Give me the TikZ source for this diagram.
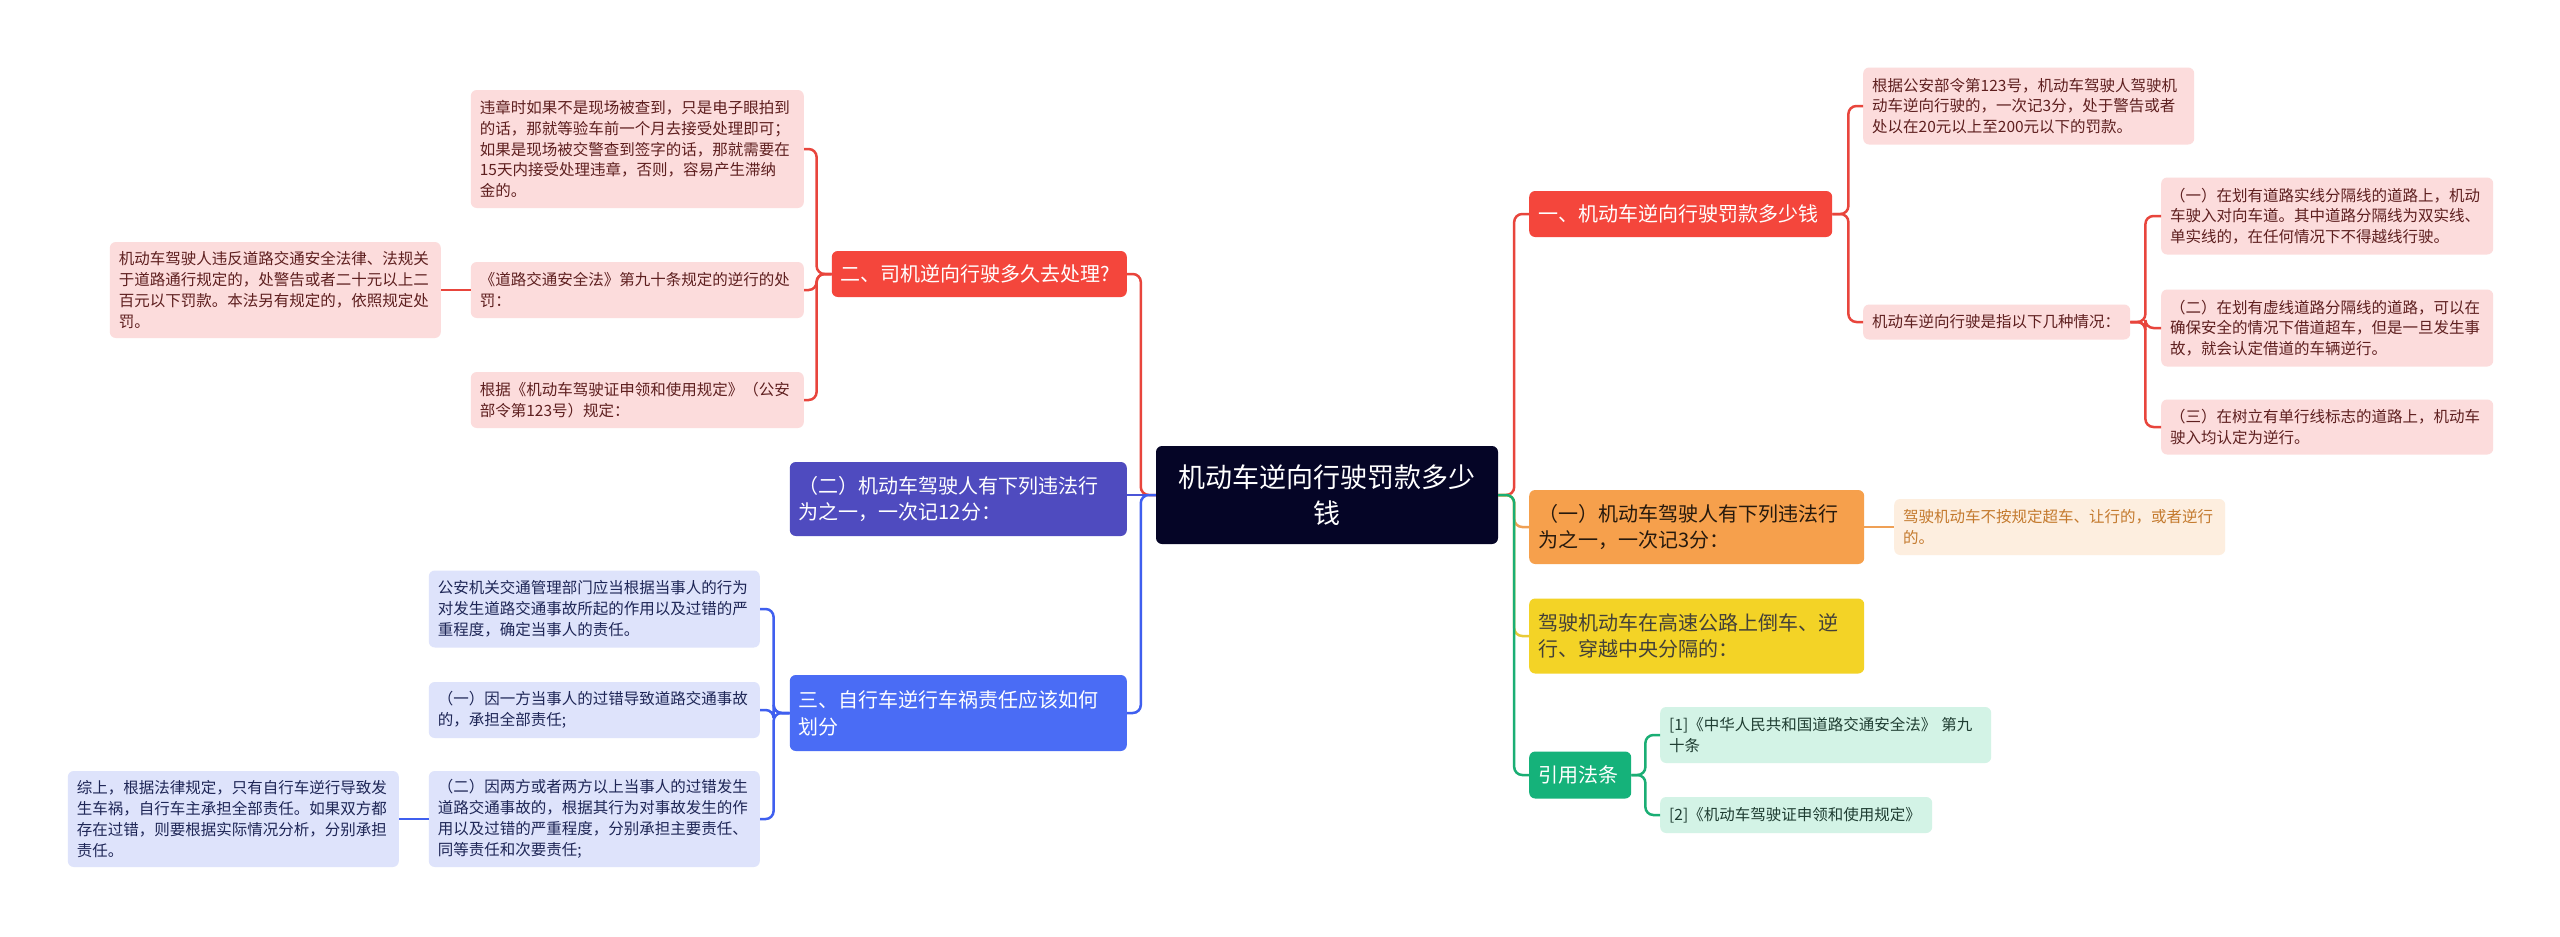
\documentclass[tikz,border=0pt]{standalone}
\usepackage{fontspec}
\setmainfont{Noto Sans CJK SC}
\definecolor{rootc}{HTML}{050526}
\definecolor{redc}{HTML}{F4463C}
\definecolor{redline}{HTML}{E8453C}
\definecolor{pinkc}{HTML}{FCDCDC}
\definecolor{pinktext}{HTML}{5E1F1F}
\definecolor{orangec}{HTML}{F6A04C}
\definecolor{orangeline}{HTML}{EFA055}
\definecolor{peachc}{HTML}{FDEEDF}
\definecolor{peachtext}{HTML}{C47A2E}
\definecolor{yellowc}{HTML}{F3D326}
\definecolor{yellowline}{HTML}{E8CB3A}
\definecolor{greenc}{HTML}{15B27A}
\definecolor{greenline}{HTML}{1AAE74}
\definecolor{mintc}{HTML}{D3F3E6}
\definecolor{minttext}{HTML}{1F3D32}
\definecolor{purplec}{HTML}{4F4BBF}
\definecolor{purpleline}{HTML}{4B55D8}
\definecolor{bluec}{HTML}{4A6CF5}
\definecolor{blueline}{HTML}{3F5FEF}
\definecolor{lavc}{HTML}{DEE3FB}
\definecolor{lavtext}{HTML}{1E2656}
\tikzset{
  mapbox/.style={rounded corners=6pt, inner xsep=9pt, inner ysep=3pt, align=left},
  headtext/.style={mapbox, text width=317pt, font=\fontsize{20}{26.7}\selectfont},
  leaftext/.style={mapbox, text width=313pt, font=\fontsize{15.5}{20.8}\selectfont},
  rootbox/.style={rounded corners=6pt, fill=rootc, text=white, align=center, inner xsep=9pt,
    text width=324pt, minimum height=98pt, font=\fontsize{27}{36.7}\selectfont},
  redhead/.style={headtext, fill=redc, text=white},
  redleaf/.style={leaftext, fill=pinkc, text=pinktext},
  orangehead/.style={headtext, fill=orangec, text=black!80!brown},
  peachleaf/.style={leaftext, fill=peachc, text=peachtext},
  yellowhead/.style={headtext, fill=yellowc, text=black!85!yellow},
  greenhead/.style={headtext, fill=greenc, text=white},
  mintleaf/.style={leaftext, fill=mintc, text=minttext},
  purplehead/.style={headtext, fill=purplec, text=white},
  bluehead/.style={headtext, fill=bluec, text=white},
  blueleaf/.style={leaftext, fill=lavc, text=lavtext},
  lnk/.style={line width=2.5pt, rounded corners=8pt}
}
\begin{document}
\begin{tikzpicture}[x=1pt,y=-1pt]
  \path[use as bounding box, fill=white] (0,0) rectangle (2560,937);

  \node[rootbox] (root) at (1327,495) {机动车逆向行驶罚款多少\\钱};

  \node[redhead, anchor=west, text width=285pt, minimum height=46pt] (r1) at (1529,214) {一、机动车逆向行驶罚款多少钱};
  \node[redleaf, anchor=west, minimum height=77pt] (r1a) at (1863,106) {根据公安部令第123号，机动车驾驶人驾驶机\\动车逆向行驶的，一次记3分，处于警告或者\\处以在20元以上至200元以下的罚款。};
  \node[redleaf, anchor=west, text width=249pt, minimum height=35pt] (r1b) at (1863,322) {机动车逆向行驶是指以下几种情况：};
  \node[redleaf, anchor=west, text width=314pt, minimum height=77pt] (r1b1) at (2161,216) {（一）在划有道路实线分隔线的道路上，机动\\车驶入对向车道。其中道路分隔线为双实线、\\单实线的，在任何情况下不得越线行驶。};
  \node[redleaf, anchor=west, text width=314pt, minimum height=77pt] (r1b2) at (2161,328) {（二）在划有虚线道路分隔线的道路，可以在\\确保安全的情况下借道超车，但是一旦发生事\\故，就会认定借道的车辆逆行。};
  \node[redleaf, anchor=west, text width=314pt, minimum height=55pt] (r1b3) at (2161,427) {（三）在树立有单行线标志的道路上，机动车\\驶入均认定为逆行。};
  \node[orangehead, anchor=west, minimum height=74pt] (r2) at (1529,527) {（一）机动车驾驶人有下列违法行\\为之一，一次记3分：};
  \node[peachleaf, anchor=west, minimum height=56pt] (r2a) at (1894,527) {驾驶机动车不按规定超车、让行的，或者逆行\\的。};
  \node[yellowhead, anchor=west, minimum height=75pt] (r3) at (1529,636) {驾驶机动车在高速公路上倒车、逆\\行、穿越中央分隔的：};
  \node[greenhead, anchor=west, text width=84pt, minimum height=47pt] (r4) at (1529,775) {引用法条};
  \node[mintleaf, anchor=west, minimum height=56pt] (r4a) at (1660,735) {[1]《中华人民共和国道路交通安全法》~第九\\十条};
  \node[mintleaf, anchor=west, text width=254pt, minimum height=36pt] (r4b) at (1660,815) {[2]《机动车驾驶证申领和使用规定》};

  \node[redhead, anchor=east, text width=277pt, minimum height=46pt] (l1) at (1127,274) {二、司机逆向行驶多久去处理?};
  \node[redleaf, anchor=east, text width=315pt, minimum height=118pt] (l1a) at (804,149) {违章时如果不是现场被查到，只是电子眼拍到\\的话，那就等验车前一个月去接受处理即可；\\如果是现场被交警查到签字的话，那就需要在\\15天内接受处理违章，否则，容易产生滞纳\\金的。};
  \node[redleaf, anchor=east, text width=315pt, minimum height=56pt] (l1b) at (804,290) {《道路交通安全法》第九十条规定的逆行的处\\罚：};
  \node[redleaf, anchor=east, minimum height=96pt] (l1b1) at (441,290) {机动车驾驶人违反道路交通安全法律、法规关\\于道路通行规定的，处警告或者二十元以上二\\百元以下罚款。本法另有规定的，依照规定处\\罚。};
  \node[redleaf, anchor=east, text width=315pt, minimum height=56pt] (l1c) at (804,400) {根据《机动车驾驶证申领和使用规定》（公安\\部令第123号）规定：};
  \node[purplehead, anchor=east, text width=319pt, minimum height=74pt] (l2) at (1127,499) {（二）机动车驾驶人有下列违法行\\为之一，一次记12分：};
  \node[bluehead, anchor=east, text width=319pt, minimum height=76pt] (l3) at (1127,713) {三、自行车逆行车祸责任应该如何\\划分};
  \node[blueleaf, anchor=east, minimum height=77pt] (l3a) at (760,609) {公安机关交通管理部门应当根据当事人的行为\\对发生道路交通事故所起的作用以及过错的严\\重程度，确定当事人的责任。};
  \node[blueleaf, anchor=east, minimum height=56pt] (l3b) at (760,710) {（一）因一方当事人的过错导致道路交通事故\\的，承担全部责任;};
  \node[blueleaf, anchor=east, minimum height=96pt] (l3c) at (760,819) {（二）因两方或者两方以上当事人的过错发生\\道路交通事故的，根据其行为对事故发生的作\\用以及过错的严重程度，分别承担主要责任、\\同等责任和次要责任;};
  \node[blueleaf, anchor=east, minimum height=96pt] (l3c1) at (399,819) {综上，根据法律规定，只有自行车逆行导致发\\生车祸，自行车主承担全部责任。如果双方都\\存在过错，则要根据实际情况分析，分别承担\\责任。};

  \draw[lnk, redline] (root.east) -- ++(16,0) |- (r1.west);
  \draw[lnk, orangeline] (root.east) -- ++(16,0) |- (r2.west);
  \draw[lnk, yellowline] (root.east) -- ++(16,0) |- (r3.west);
  \draw[lnk, greenline] (root.east) -- ++(16,0) |- (r4.west);
  \draw[lnk, redline] (r1.east) -- ++(16,0) |- (r1a.west);
  \draw[lnk, redline] (r1.east) -- ++(16,0) |- (r1b.west);
  \draw[lnk, redline] (r1b.east) -- ++(15,0) |- (r1b1.west);
  \draw[lnk, redline] (r1b.east) -- ++(15,0) |- (r1b2.west);
  \draw[lnk, redline] (r1b.east) -- ++(15,0) |- (r1b3.west);
  \draw[lnk, orangeline] (r2.east) -- (r2a.west);
  \draw[lnk, greenline] (r4.east) -- ++(14,0) |- (r4a.west);
  \draw[lnk, greenline] (r4.east) -- ++(14,0) |- (r4b.west);

  \draw[lnk, redline] (root.west) -- ++(-15,0) |- (l1.east);
  \draw[lnk, purpleline] (root.west) -- (root.west -| l2.east);
  \draw[lnk, blueline] (root.west) -- ++(-15,0) |- (l3.east);
  \draw[lnk, redline] (l1.west) -- ++(-15,0) |- (l1a.east);
  \draw[lnk, redline] (l1.west) -- ++(-15,0) |- (l1b.east);
  \draw[lnk, redline] (l1.west) -- ++(-15,0) |- (l1c.east);
  \draw[lnk, redline] (l1b.west) -- (l1b1.east);
  \draw[lnk, blueline] (l3.west) -- ++(-16,0) |- (l3a.east);
  \draw[lnk, blueline] (l3.west) -- ++(-16,0) |- (l3b.east);
  \draw[lnk, blueline] (l3.west) -- ++(-16,0) |- (l3c.east);
  \draw[lnk, blueline] (l3c.west) -- (l3c1.east);
\end{tikzpicture}
\end{document}
